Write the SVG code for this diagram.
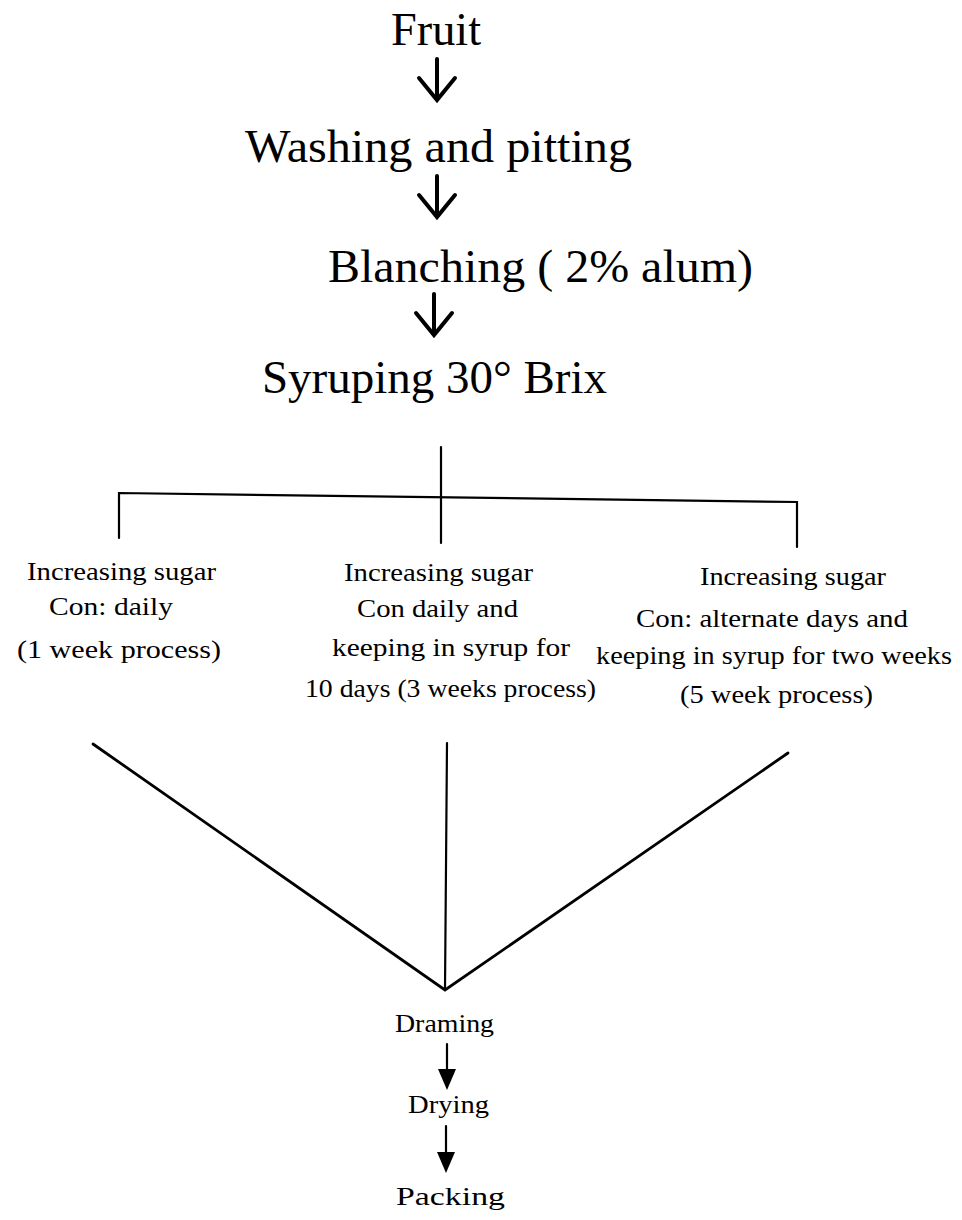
<svg xmlns="http://www.w3.org/2000/svg" width="962" height="1220" viewBox="0 0 962 1220">
<style>
.big{font-family:"Liberation Serif","Times New Roman",serif;font-size:46px;fill:#000;}
.sm{font-family:"Liberation Serif","Times New Roman",serif;font-size:26px;fill:#000;}
.ln{stroke:#000;stroke-width:2.2;fill:none;stroke-linecap:round;}
.vl{stroke:#000;stroke-width:2.8;fill:none;stroke-linecap:round;}
.chev{stroke:#000;stroke-width:4;fill:none;stroke-linecap:round;stroke-linejoin:miter;}
</style>
<defs>
<path id="chevArrow" class="chev" d="M0,-41 V-2 M-18,-22 L0,0 L18,-22"/>
</defs>
<rect width="962" height="1220" fill="#fff"/>
<g id="connectors">
<use href="#chevArrow" transform="translate(437,100)"/>
<use href="#chevArrow" transform="translate(437,217)"/>
<use href="#chevArrow" transform="translate(434,335)"/>
<path class="ln" d="M441,447 V543"/>
<path class="ln" d="M119,538 V493 L797,502 V547"/>
<path class="vl" d="M93,744 L445,990 L788,753"/>
<path class="ln" d="M447,743 L445,990"/>
<path class="ln" d="M447,1044 V1072"/>
<path d="M438,1069 L456,1069 L447,1090 Z" fill="#000"/>
<path class="ln" d="M446,1126 V1154"/>
<path d="M437,1152 L455,1152 L446,1173 Z" fill="#000"/>
</g>
<g id="fruit"><text class="big" x="391" y="45" textLength="90" lengthAdjust="spacingAndGlyphs">Fruit</text></g>
<g id="washing"><text class="big" x="245" y="162" textLength="387" lengthAdjust="spacingAndGlyphs">Washing and pitting</text></g>
<g id="blanching"><text class="big" x="328" y="282" textLength="425" lengthAdjust="spacingAndGlyphs">Blanching ( 2% alum)</text></g>
<g id="syruping"><text class="big" x="262" y="393" textLength="345" lengthAdjust="spacingAndGlyphs">Syruping 30° Brix</text></g>
<g id="option1">
<text class="sm" x="27" y="580" textLength="189" lengthAdjust="spacingAndGlyphs">Increasing sugar</text>
<text class="sm" x="49" y="615" textLength="124" lengthAdjust="spacingAndGlyphs">Con: daily</text>
<text class="sm" x="17" y="658" textLength="204" lengthAdjust="spacingAndGlyphs">(1 week process)</text>
</g>
<g id="option2">
<text class="sm" x="344" y="581" textLength="189" lengthAdjust="spacingAndGlyphs">Increasing sugar</text>
<text class="sm" x="357" y="617" textLength="161" lengthAdjust="spacingAndGlyphs">Con daily and</text>
<text class="sm" x="332" y="656" textLength="238" lengthAdjust="spacingAndGlyphs">keeping in syrup for</text>
<text class="sm" x="305" y="697" textLength="291" lengthAdjust="spacingAndGlyphs">10 days (3 weeks process)</text>
</g>
<g id="option3">
<text class="sm" x="700" y="585" textLength="186" lengthAdjust="spacingAndGlyphs">Increasing sugar</text>
<text class="sm" x="636" y="627" textLength="272" lengthAdjust="spacingAndGlyphs">Con: alternate days and</text>
<text class="sm" x="596" y="664" textLength="356" lengthAdjust="spacingAndGlyphs">keeping in syrup for two weeks</text>
<text class="sm" x="680" y="703" textLength="193" lengthAdjust="spacingAndGlyphs">(5 week process)</text>
</g>
<g id="draining"><text class="sm" x="395" y="1032" textLength="99" lengthAdjust="spacingAndGlyphs">Draming</text></g>
<g id="drying"><text class="sm" x="408" y="1113" textLength="81" lengthAdjust="spacingAndGlyphs">Drying</text></g>
<g id="packing"><text class="sm" x="396" y="1205" textLength="109" lengthAdjust="spacingAndGlyphs">Packing</text></g>
</svg>
